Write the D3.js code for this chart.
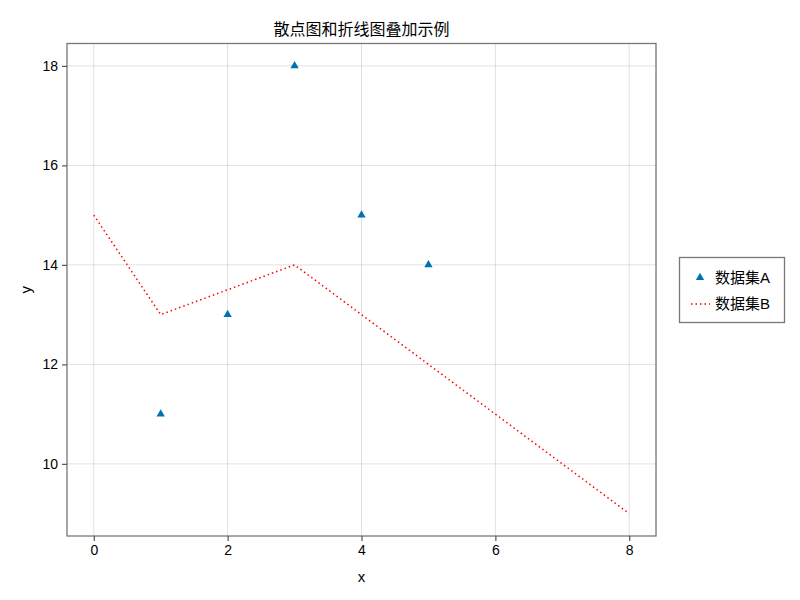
<!DOCTYPE html>
<html><head><meta charset="utf-8">
<script src="https://cdn.jsdelivr.net/npm/d3@7/dist/d3.min.js"></script>
<style>body{margin:0;background:#fff}text{font-family:"Liberation Sans","Noto Sans CJK SC",sans-serif;}</style>
</head><body><svg id="c" width="800" height="600"></svg>
<script>
const title = "散点图和折线图叠加示例";
const xLabel = "x", yLabel = "y";
const seriesAName = "数据集A", seriesBName = "数据集B";
const aX = [1, 2, 3, 4, 5];
const aY = [11, 13, 18, 15, 14];
const bX = [0, 1, 3, 8];
const bY = [15, 13, 14, 9];
const xTicks = [0, 2, 4, 6, 8];
const yTicks = [10, 12, 14, 16, 18];

const svg = d3.select("#c");
const L = 67, R = 656, T = 43.5, B = 536;
const x = d3.scaleLinear().domain([-0.4, 8.4]).range([L, R]);
const y = d3.scaleLinear().domain([8.55, 18.45]).range([B, T]);

// grid
svg.append("g").selectAll("line").data(xTicks).join("line")
  .attr("x1", d => x(d)).attr("x2", d => x(d)).attr("y1", T).attr("y2", B)
  .attr("stroke", "rgba(0,0,0,0.12)").attr("stroke-width", 1);
svg.append("g").selectAll("line").data(yTicks).join("line")
  .attr("y1", d => y(d)).attr("y2", d => y(d)).attr("x1", L).attr("x2", R)
  .attr("stroke", "rgba(0,0,0,0.12)").attr("stroke-width", 1);

// line B
svg.append("path").datum(bX.map((v, i) => [v, bY[i]]))
  .attr("d", d3.line().x(d => x(d[0])).y(d => y(d[1])))
  .attr("fill", "none").attr("stroke", "#ff0000").attr("stroke-width", 1.5)
  .attr("stroke-dasharray", "1.5 3");

// scatter A
const tri = d3.symbol().type(d3.symbolTriangle).size(30);
svg.append("g").selectAll("path").data(aX.map((v, i) => [v, aY[i]])).join("path")
  .attr("d", tri).attr("transform", d => `translate(${x(d[0])},${y(d[1])})`)
  .attr("fill", "#0072b2");

// spines
svg.append("rect").attr("x", L).attr("y", T).attr("width", R - L).attr("height", B - T)
  .attr("fill", "none").attr("stroke", "#777").attr("stroke-width", 1.3);

// axes
const xa = svg.append("g").attr("transform", `translate(0,${B})`)
  .call(d3.axisBottom(x).tickValues(xTicks).tickSize(5).tickPadding(4).tickFormat(d3.format("d")));
const ya = svg.append("g").attr("transform", `translate(${L},0)`)
  .call(d3.axisLeft(y).tickValues(yTicks).tickSize(5).tickPadding(4).tickFormat(d3.format("d")));
[xa, ya].forEach(g => {
  g.select(".domain").remove();
  g.selectAll(".tick line").attr("stroke", "#555").attr("stroke-width", 1.2);
  g.selectAll(".tick text").attr("fill", "#000").style("font-size", "14px")
    .style("font-family", '"Liberation Sans",sans-serif');
});

// title and labels
svg.append("text").attr("x", (L + R) / 2).attr("y", 35).attr("text-anchor", "middle")
  .style("font-size", "16px").text(title);
svg.append("text").attr("x", (L + R) / 2).attr("y", 582).attr("text-anchor", "middle")
  .style("font-size", "15px").text(xLabel);
svg.append("text").attr("transform", `translate(31,${(T + B) / 2}) rotate(-90)`).attr("text-anchor", "middle")
  .style("font-size", "15px").text(yLabel);

// legend
const lg = svg.append("g");
lg.append("rect").attr("x", 679.5).attr("y", 257.5).attr("width", 105).attr("height", 65)
  .attr("fill", "#fff").attr("stroke", "#777").attr("stroke-width", 1.3);
lg.append("path").attr("d", tri).attr("transform", "translate(700,277.5)").attr("fill", "#0072b2");
lg.append("line").attr("x1", 691).attr("x2", 710).attr("y1", 304).attr("y2", 304)
  .attr("stroke", "#ff0000").attr("stroke-width", 1.5).attr("stroke-dasharray", "1.5 3");
lg.append("text").attr("x", 715).attr("y", 283).style("font-size", "15px").text(seriesAName);
lg.append("text").attr("x", 715).attr("y", 309).style("font-size", "15px").text(seriesBName);
</script></body></html>
